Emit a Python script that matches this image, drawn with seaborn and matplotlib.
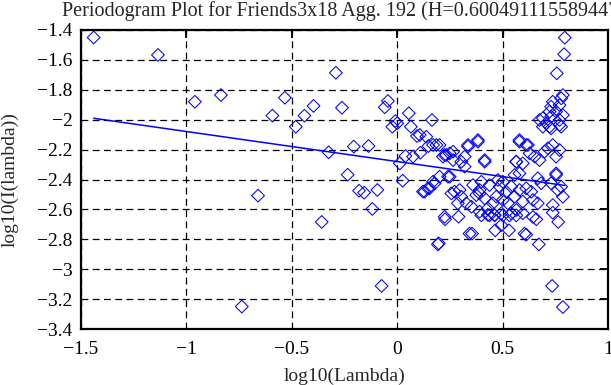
import matplotlib
matplotlib.use("Agg")
import matplotlib.pyplot as plt
import seaborn as sns
import pandas as pd

# Periodogram points
log_lambda = [
    -1.44, -1.135, -0.96, -0.836, -0.737, -0.66,
    -0.592, -0.533, -0.481, -0.44, -0.397, -0.358, -0.325, -0.291, -0.262, -0.235,
    -0.206, -0.181, -0.157, -0.136, -0.118, -0.094, -0.074, -0.059, -0.044, -0.023,
    -0.009, 0.0, 0.012, 0.026, 0.039, 0.055, 0.065, 0.075, 0.094, 0.107,
    0.11, 0.122, 0.13, 0.138, 0.146, 0.148, 0.154, 0.165, 0.17, 0.17,
    0.178, 0.186, 0.193, 0.197, 0.201, 0.201, 0.217, 0.225, 0.225, 0.227,
    0.233, 0.241, 0.249, 0.249, 0.257, 0.265, 0.265, 0.272, 0.288, 0.291,
    0.296, 0.304, 0.304, 0.32, 0.32, 0.328, 0.336, 0.336, 0.343, 0.352,
    0.355, 0.36, 0.375, 0.383, 0.383, 0.391, 0.391, 0.391, 0.399, 0.399,
    0.415, 0.415, 0.415, 0.43, 0.43, 0.438, 0.438, 0.454, 0.462, 0.462,
    0.465, 0.47, 0.478, 0.486, 0.494, 0.494, 0.501, 0.501, 0.501, 0.517,
    0.525, 0.53, 0.533, 0.541, 0.541, 0.557, 0.557, 0.565, 0.565, 0.565,
    0.565, 0.58, 0.58, 0.58, 0.58, 0.596, 0.596, 0.596, 0.604, 0.612,
    0.612, 0.612, 0.62, 0.628, 0.636, 0.644, 0.644, 0.652, 0.66, 0.667,
    0.667, 0.672, 0.675, 0.675, 0.683, 0.691, 0.691, 0.699, 0.707, 0.715,
    0.723, 0.723, 0.73, 0.73, 0.73, 0.73, 0.735, 0.738, 0.738, 0.738,
    0.738, 0.754, 0.754, 0.754, 0.754, 0.757, 0.762, 0.764, 0.77, 0.77,
    0.77, 0.77, 0.778, 0.778, 0.778, 0.786, 0.786, 0.786, 0.786, 0.792,
    0.795,
]
log_periodogram = [
    -1.45, -1.567, -1.88, -1.835, -3.25, -2.508,
    -1.973, -1.853, -2.047, -1.973, -1.908, -2.684, -2.218, -1.686, -1.92, -2.368,
    -2.18, -2.475, -2.488, -2.176, -2.597, -2.47, -3.112, -1.917, -1.875, -2.047,
    -2.009, -2.024, -2.292, -2.408, -2.243, -1.957, -2.047, -2.247, -2.109, -2.102,
    -2.221, -2.481, -2.481, -2.114, -2.459, -2.176, -2.459, -2.002, -2.169, -2.415,
    -2.425, -2.169, -2.834, -2.827, -2.381, -2.169, -2.247, -2.236, -2.649, -2.666,
    -2.236, -2.381, -2.225, -2.381, -2.493, -2.27, -2.214, -2.481, -2.559, -2.649,
    -2.47, -2.281, -2.515, -2.247, -2.314, -2.559, -2.169, -2.18, -2.762, -2.582,
    -2.762, -2.437, -2.504, -2.147, -2.136, -2.47, -2.493, -2.615, -2.415, -2.64,
    -2.27, -2.281, -2.526, -2.593, -2.637, -2.437, -2.64, -2.559, -2.64, -2.637,
    -2.74, -2.515, -2.403, -2.448, -2.706, -2.626, -2.415, -2.537, -2.64, -2.482,
    -2.559, -2.74, -2.64, -2.448, -2.626, -2.515, -2.37, -2.281, -2.604, -2.64,
    -2.281, -2.147, -2.47, -2.359, -2.136, -2.548, -2.626, -2.292, -2.762, -2.169,
    -2.459, -2.769, -2.169, -2.225, -2.482, -2.537, -2.651, -2.247, -2.666, -2.392,
    -2.559, -2.834, -2.27, -2.002, -2.425, -1.99, -2.047, -2.214, -2.024, -2.191,
    -1.946, -2.047, -1.913, -1.98, -2.058, -2.425, -3.112, -1.88, -2.169, -2.571,
    -2.622, -1.946, -2.247, -2.359, -2.37, -1.69, -2.47, -2.684, -1.902, -2.002,
    -2.035, -2.203, -1.857, -2.047, -2.448, -1.835, -1.969, -2.515, -3.253, -1.562,
    -1.451,
]

# Least-squares fit shown in the chart (slope gives H = (1 - slope) / 2)
fit_slope = -0.201
fit_intercept = -2.28

x_ticks = [-1.5, -1, -0.5, 0, 0.5, 1]
y_ticks = [-3.4, -3.2, -3, -2.8, -2.6, -2.4, -2.2, -2, -1.8, -1.6, -1.4]
title = "Periodogram Plot for Friends3x18 Agg. 192 (H=0.6004911155894473)"

df = pd.DataFrame({"x": log_lambda, "y": log_periodogram})
fit = pd.DataFrame({"x": [min(log_lambda), max(log_lambda)]})
fit["y"] = fit_intercept + fit_slope * fit["x"]

sns.set_style("white")
plt.rcParams["font.family"] = ["Liberation Serif", "DejaVu Serif"]

fig = plt.figure(figsize=(6.11, 3.85), dpi=100)
ax = fig.add_axes([81 / 611, 56 / 385, 527 / 611, 299 / 385])

sns.scatterplot(data=df, x="x", y="y", marker="D", s=42, facecolor="none",
                edgecolor="#0000ff", linewidth=0.75, ax=ax, zorder=3)
sns.lineplot(data=fit, x="x", y="y", color="#0000ff", linewidth=1.1, ax=ax, zorder=4)

ax.set_xlim(-1.5, 1)
ax.set_ylim(-3.4, -1.4)
ax.set_xticks(x_ticks)
ax.set_yticks(y_ticks)
ax.set_xticklabels([f"{t:g}".replace("-", "\u2212") for t in x_ticks])
ax.set_yticklabels([f"{t:g}".replace("-", "\u2212") for t in y_ticks])
ax.grid(True, color="black", linestyle=(0, (5.5, 3.5)), linewidth=0.9)
ax.tick_params(direction="in", length=6, width=1.4, top=True, right=True,
               labelsize=14, colors="black")
ax.tick_params(axis="x", pad=8.5)
ax.tick_params(axis="y", pad=6)
for s in ax.spines.values():
    s.set_visible(True)
    s.set_color("black")
    s.set_linewidth(1.6)

ax.set_xlabel("log10(Lambda)", fontsize=14, labelpad=7)
ax.set_ylabel("log10(I(lambda))", fontsize=14)
ax.yaxis.set_label_coords(-0.118, 0.5)
fig.text(62 / 611, 1 - 16 / 385, title, fontsize=14.5, ha="left", va="baseline")

fig.savefig("out.png", dpi=100, facecolor="white")
